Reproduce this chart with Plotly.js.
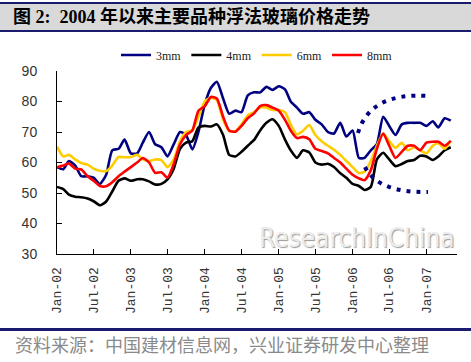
<!DOCTYPE html>
<html>
<head>
<meta charset="utf-8">
<script src="https://cdn.plot.ly/plotly-3.0.1.min.js"></script>
<style>html,body{margin:0;padding:0;background:#fff;}#chart{width:471px;height:362px;}</style>
</head>
<body>
<div id="chart"></div>
<script>
// Monthly observations, Jan-2002 .. May-2007
const startYear = 2002;
const seriesNames = ['3mm', '4mm', '6mm', '8mm'];
const seriesColors = ['#000080', '#000000', '#FFCC00', '#FF0000'];

const v3mm = [58.5,57.8,60.5,59,55.5,55.5,55,53,56,64,64.5,67.5,63,63,66.5,70,66,65,62,66,70,69,64.3,70,
  79,84.5,86.5,81,76,77,76.5,82,83,83,84.8,83.8,85,84,80,78,76,76.5,74,72.5,70,69.5,73,68.5,
  70.5,61.5,61.5,64,66,75,72,69,72.5,73,73,73,72,73.5,71.5,74.5,73.7];
const v4mm = [52,51.3,49.5,48.8,48.6,48.2,47.3,46,47.2,50.5,54,54.8,54,54.5,54.5,53.8,52.8,53,54.5,58,64.5,66.5,67,71.5,
  72,71.8,72.5,69,62.5,62,63.5,65.5,67.4,70.5,73,74.2,72,67.5,64,61.5,64,63.3,60,59.3,59.6,58.5,56.5,55,
  53,52.3,51,52,61,63.2,61,58.8,59.5,60.5,60.8,62.2,62,60.8,62,64,65];
const v6mm = [65.2,62,62.5,61,59.8,59.3,58,57.3,57.2,59,61.8,61.7,61.8,62.5,61,60.5,61,60.8,58.5,61,67,70,70.6,75,
  80,81.2,80.5,74,70.3,70.3,72.5,75.5,76.5,78,78,77.2,77.2,76.5,72.5,69.2,70.4,72.3,69,67,65.5,64.2,62.5,60.5,
  58.5,56.5,57,60.5,65.5,69.5,67,64.8,66.5,64,65,64,63,65.5,66.3,64.5,67.2];
const v8mm = [58.4,59,59.7,58,57.7,55.5,54,52.3,52.2,53.5,55.5,57,58.5,60,61.5,60,56.6,56.8,55,59.5,66,69,70.5,77,
  78.4,81.5,81,75,70.5,70.1,72,74.5,76.1,78.5,78.8,78,77,74,70.5,68,68.4,67.6,64.5,63.8,63,61.5,60,58,
  56,54.8,54.2,57.5,64.5,69.5,65.5,61.5,63.5,65.5,65.5,64,66.5,66.8,66.8,65.5,67.1];

const months = [];
for (let i = 0; i < v3mm.length; i++) {
  const y = startYear + Math.floor(i / 12), m = (i % 12) + 1;
  months.push(y + '-' + String(m).padStart(2, '0') + '-01');
}

const titleText = '图 2:  2004 年以来主要品种浮法玻璃价格走势';
const sourceText = '资料来源：中国建材信息网，兴业证券研发中心整理';
const watermarkText = 'ResearchInChina';

const allValues = [v3mm, v4mm, v6mm, v8mm];
const traces = allValues.map((vals, k) => ({
  x: months, y: vals, type: 'scatter', mode: 'lines', name: seriesNames[k],
  line: {color: seriesColors[k], width: 2.6, shape: 'spline', smoothing: 0.6}
}));

// pixel helpers for decoration placement (plot area: x 57..457, y 71..254)
const px = x => (x - 57) / 400;
const py = y => (254 - y) / 183;

const layout = {
  width: 471, height: 362,
  margin: {l: 57, r: 14, t: 71, b: 108},
  paper_bgcolor: '#ffffff', plot_bgcolor: '#ffffff',
  showlegend: true,
  legend: {orientation: 'h', x: 0.5, xanchor: 'center', y: py(55), yanchor: 'middle',
    font: {family: 'Liberation Serif, DejaVu Serif, serif', size: 12, color: '#222'},
    bgcolor: 'rgba(0,0,0,0)', itemwidth: 30, tracegroupgap: 0},
  title: {text: '<b>' + titleText + '</b>', x: 13 / 471, xanchor: 'left', y: 1 - 17 / 362, yanchor: 'middle',
    xref: 'container', yref: 'container',
    font: {family: 'Liberation Serif, Noto Sans CJK SC, serif', size: 18, color: '#000'}},
  xaxis: {type: 'date', range: ['2002-01-01', '2007-06-01'], tick0: '2002-01-01', dtick: 'M6',
    tickformat: '%b-%y', tickangle: -90, ticks: 'inside', ticklen: 5, tickcolor: '#000',
    ticklabelstandoff: 7,
    showline: true, linecolor: '#000', linewidth: 1, showgrid: false, zeroline: false,
    tickfont: {family: 'Liberation Mono, DejaVu Sans Mono, monospace', size: 13, color: '#333'}},
  yaxis: {range: [30, 90], dtick: 10, ticks: 'inside', ticklen: 5, tickcolor: '#000',
    showline: true, linecolor: '#000', linewidth: 1, showgrid: false, zeroline: false,
    ticklabelstandoff: 16,
    tickfont: {family: 'Liberation Sans, Arial, sans-serif', size: 14, color: '#333'}},
  shapes: [
    {type: 'rect', xref: 'paper', yref: 'paper', x0: px(0), x1: px(471), y0: py(31), y1: py(3),
      fillcolor: '#d9d9d9', line: {width: 0}, layer: 'below'},
    {type: 'line', xref: 'paper', yref: 'paper', x0: px(0), x1: px(471), y0: py(3), y1: py(3),
      line: {color: '#1a1a6e', width: 2}},
    {type: 'line', xref: 'paper', yref: 'paper', x0: px(0), x1: px(471), y0: py(31), y1: py(31),
      line: {color: '#1a1a6e', width: 2}},
    {type: 'line', xref: 'paper', yref: 'paper', x0: px(0), x1: px(471), y0: py(329.5), y1: py(329.5),
      line: {color: '#1a1a6e', width: 3}},
    {type: 'path', xref: 'paper', yref: 'paper',
      path: 'M ' + px(358) + ',' + py(133) + ' Q ' + px(370) + ',' + py(92) + ' ' + px(428) + ',' + py(96),
      line: {color: '#000080', width: 4, dash: '4px,6px'}},
    {type: 'path', xref: 'paper', yref: 'paper',
      path: 'M ' + px(365) + ',' + py(167) + ' Q ' + px(378) + ',' + py(193) + ' ' + px(428) + ',' + py(192),
      line: {color: '#000080', width: 4, dash: '4px,6px'}}
  ],
  annotations: [
    {text: watermarkText, xref: 'paper', yref: 'paper', x: px(357), y: py(238), xanchor: 'center', yanchor: 'middle',
      showarrow: false,
      font: {family: 'DejaVu Sans Condensed, Liberation Sans Narrow, sans-serif', size: 26, color: '#ececec',
        shadow: '1px 1px 1px #9a9a9a'}},
    {text: sourceText, xref: 'paper', yref: 'paper', x: px(13), y: py(344), xanchor: 'left', yanchor: 'middle',
      showarrow: false,
      font: {family: 'Noto Sans CJK SC, sans-serif', size: 18, color: '#8a8a8a'}}
  ]
};

Plotly.newPlot('chart', traces, layout, {displayModeBar: false, staticPlot: true});
</script>
</body>
</html>
